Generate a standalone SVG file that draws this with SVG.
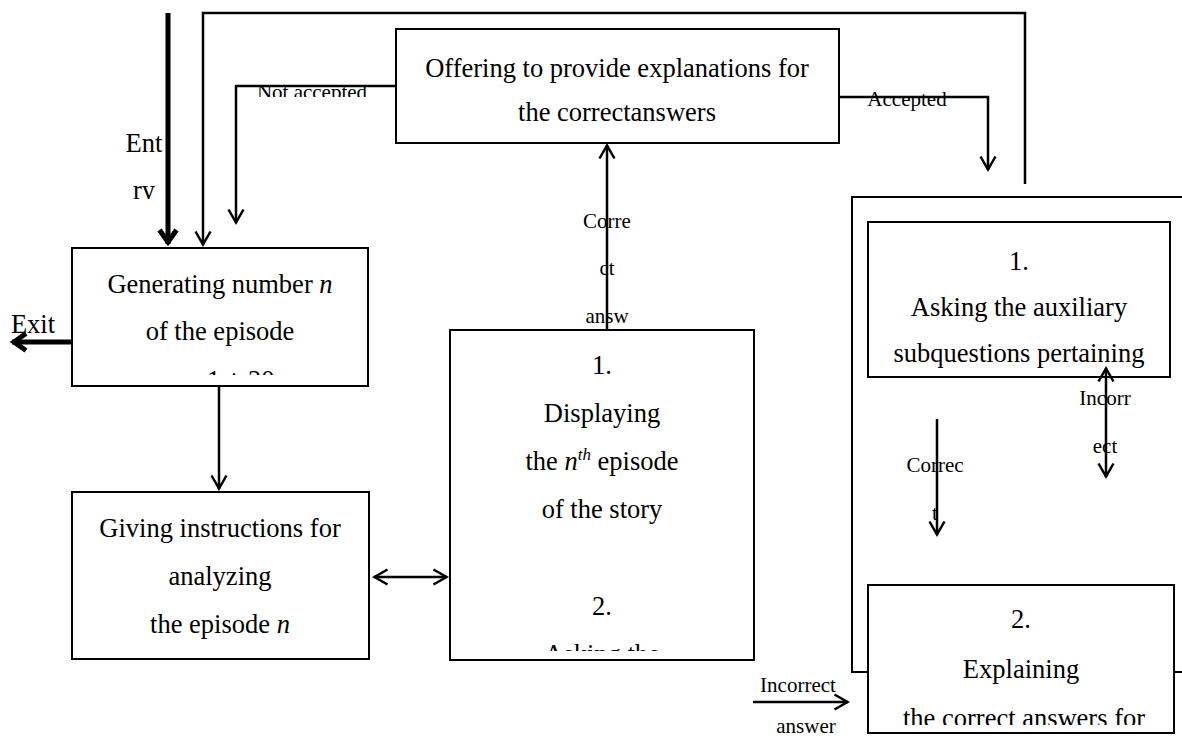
<svg xmlns="http://www.w3.org/2000/svg" width="1182" height="740" viewBox="0 0 1182 740">
  <defs>
    <style>
      .box { fill: #fff; stroke: #000; stroke-width: 2; }
      .txt { font-family: "Liberation Serif", "Times New Roman", serif; font-size: 26.5px; fill: #000; text-anchor: middle; }
      .lbl { font-family: "Liberation Serif", "Times New Roman", serif; font-size: 21px; fill: #000; text-anchor: middle; }
      .it { font-style: italic; }
      .wire { fill: none; stroke: #000; stroke-width: 2.5; }
      .bold { fill: none; stroke: #000; stroke-width: 5; }
    </style>
    <marker id="head" viewBox="0 0 18 18" refX="15.5" refY="9" markerWidth="18" markerHeight="18" markerUnits="userSpaceOnUse" orient="auto-start-reverse">
      <path d="M2,1.5 L15,9 L2,16.5" fill="none" stroke="#000" stroke-width="2.5"/>
    </marker>
    <marker id="headBold" viewBox="0 0 22 22" refX="18" refY="11" markerWidth="22" markerHeight="22" markerUnits="userSpaceOnUse" orient="auto">
      <path d="M4,2.5 L16,11 L4,19.5" fill="none" stroke="#000" stroke-width="5"/>
    </marker>
    <!-- text frames that cut off overflowing lines -->
    <clipPath id="clipNotAcc"><rect x="240" y="60" width="155" height="37"/></clipPath>
    <clipPath id="clipEntry"><rect x="110" y="120" width="56" height="79"/></clipPath>
    <clipPath id="clipGen"><rect x="73" y="249" width="294" height="126"/></clipPath>
    <clipPath id="clipMid"><rect x="451" y="331" width="302" height="320"/></clipPath>
    <clipPath id="clipExpl"><rect x="869" y="586" width="304" height="139"/></clipPath>
  </defs>

  <rect x="0" y="0" width="1182" height="740" fill="#fff"/>

  <!-- outer frame of the explanation block -->
  <g id="explanation-frame">
    <rect class="box" x="852" y="197" width="345" height="475"/>
  </g>

  <g id="offer-node">
    <rect class="box" x="396" y="29" width="443" height="114"/>
    <text class="txt" x="617" y="77">Offering to provide explanations for</text>
    <text class="txt" x="617" y="121">the correctanswers</text>
  </g>

  <g id="generate-node">
    <rect class="box" x="72" y="248" width="296" height="138"/>
    <g clip-path="url(#clipGen)">
      <text class="txt" x="220" y="293">Generating number <tspan class="it">n</tspan></text>
      <text class="txt" x="220" y="340">of the episode</text>
      <text class="txt" x="220" y="389"><tspan class="it">n</tspan> = 1 ÷ 20</text>
    </g>
  </g>

  <g id="instructions-node">
    <rect class="box" x="72" y="492" width="297" height="167"/>
    <text class="txt" x="220" y="537">Giving instructions for</text>
    <text class="txt" x="220" y="585">analyzing</text>
    <text class="txt" x="220" y="633">the episode <tspan class="it">n</tspan></text>
  </g>

  <g id="episode-node">
    <rect class="box" x="450" y="330" width="304" height="330"/>
    <g clip-path="url(#clipMid)">
      <text class="txt" x="602" y="374">1.</text>
      <text class="txt" x="602" y="422">Displaying</text>
      <text class="txt" x="602" y="470">the <tspan class="it">n</tspan><tspan class="it" font-size="17" dy="-10">th</tspan><tspan dy="10"> episode</tspan></text>
      <text class="txt" x="602" y="518">of the story</text>
      <text class="txt" x="602" y="615">2.</text>
      <text class="txt" x="602" y="663">Asking the</text>
    </g>
  </g>

  <g id="subquestions-node">
    <rect class="box" x="868" y="222" width="302" height="155"/>
    <text class="txt" x="1019" y="270">1.</text>
    <text class="txt" x="1019" y="316">Asking the auxiliary</text>
    <text class="txt" x="1019" y="362">subquestions pertaining</text>
  </g>

  <g id="explaining-node">
    <rect class="box" x="868" y="585" width="306" height="148"/>
    <g clip-path="url(#clipExpl)">
      <text class="txt" x="1021" y="628">2.</text>
      <text class="txt" x="1021" y="678">Explaining</text>
      <text class="txt" x="1024" y="727">the correct answers for</text>
    </g>
  </g>

  <g id="connectors">
    <!-- labels sit under the lines that cross them -->
    <g clip-path="url(#clipEntry)">
      <text class="txt" x="144" y="152">Ent</text>
      <text class="txt" x="144" y="199">ry</text>
    </g>
    <text class="txt" x="33" y="333">Exit</text>
    <text class="lbl" x="312" y="99" clip-path="url(#clipNotAcc)">Not accepted</text>
    <text class="lbl" x="907" y="106">Accepted</text>
    <text class="lbl" x="607" y="228">Corre</text>
    <text class="lbl" x="607" y="275">ct</text>
    <text class="lbl" x="607" y="323">answ</text>
    <text class="lbl" x="1105" y="405">Incorr</text>
    <text class="lbl" x="1105" y="453">ect</text>
    <text class="lbl" x="935" y="472">Correc</text>
    <text class="lbl" x="935" y="520">t</text>
    <text class="lbl" x="798" y="692">Incorrect</text>
    <text class="lbl" x="806" y="733">answer</text>

    <line class="bold" x1="168" y1="13" x2="168" y2="244" marker-end="url(#headBold)"/>
    <line class="bold" x1="72" y1="342" x2="12" y2="342" marker-end="url(#headBold)"/>
    <path class="wire" d="M1025,184 V13 H203 V245" marker-end="url(#head)"/>
    <path class="wire" d="M396,86 H236 V223" marker-end="url(#head)"/>
    <path class="wire" d="M839,97 H988 V170" marker-end="url(#head)"/>
    <path class="wire" d="M607,330 V145" marker-end="url(#head)"/>
    <path class="wire" d="M219,386 V489" marker-end="url(#head)"/>
    <path class="wire" d="M374,577 H447" marker-start="url(#head)" marker-end="url(#head)"/>
    <path class="wire" d="M937,419 V535" marker-end="url(#head)"/>
    <path class="wire" d="M1106,477 V368" marker-start="url(#head)" marker-end="url(#head)"/>
    <path class="wire" d="M753,702 H848" marker-end="url(#head)"/>
  </g>
</svg>
